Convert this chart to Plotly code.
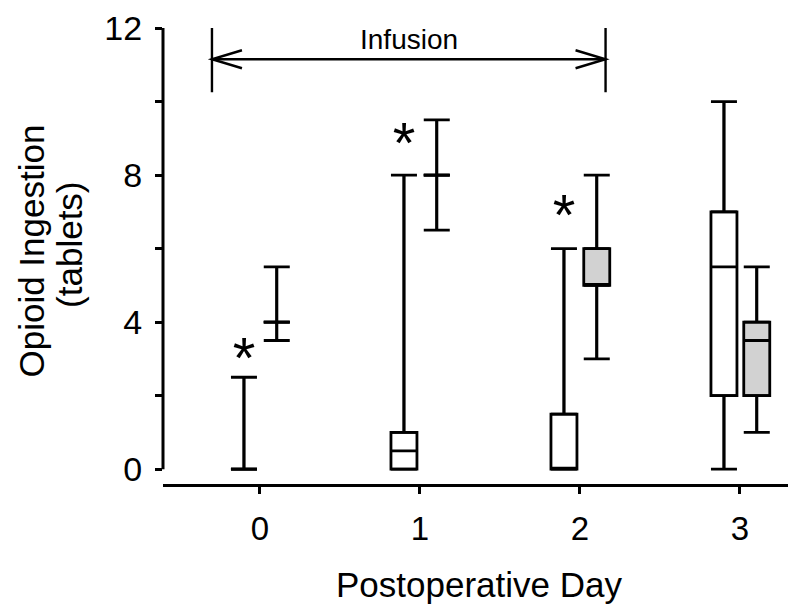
import plotly.graph_objects as go

# ---- data ----
days = [0, 1, 2, 3]
day_labels = ["0", "1", "2", "3"]

# group A (open boxes)
a_lower = [0, 0, 0, 0]
a_q1 = [0, 0, 0, 2]
a_median = [0, 0.5, 0, 5.5]
a_q3 = [0, 1, 1.5, 7]
a_upper = [2.5, 8, 6, 10]

# group B (shaded boxes)
b_lower = [3.5, 6.5, 3, 1]
b_q1 = [4, 8, 5, 2]
b_median = [4, 8, 5, 3.5]
b_q3 = [4, 8, 6, 4]
b_upper = [5.5, 9.5, 8, 5.5]

# significance markers (days 0-2, above group A)
sig_days = [0, 1, 2]
sig_y = [3.65, 9.5, 7.55]

y_tickvals = [0, 2, 4, 6, 8, 10, 12]
y_ticktext = ["0", "", "4", "", "8", "", "12"]

infusion_start = -0.3
infusion_end = 2.16
infusion_y = 11.15

# ---- layout constants ----
OFF_A = -0.1
OFF_B = 0.105
BOX_W = 0.1625
FONT = "Arial, Liberation Sans, sans-serif"
LW = 2.8
CAP = 13

xa = [d + OFF_A for d in days]
xb = [d + OFF_B for d in days]

fig = go.Figure()


def add_group(xs, lower, q1, med, q3, upper, fill):
    fig.add_trace(go.Box(
        x=xs, q1=q1, median=med, q3=q3, lowerfence=lower, upperfence=upper,
        width=BOX_W, fillcolor=fill, line=dict(color="black", width=LW),
        boxpoints=False, whiskerwidth=0, showlegend=False, hoverinfo="skip",
    ))
    # whisker caps via error bars (upper whiskers from q3, lower from q1)
    fig.add_trace(go.Scatter(
        x=xs + xs,
        y=q3 + q1,
        mode="markers",
        marker=dict(size=1, color="rgba(0,0,0,0)"),
        error_y=dict(
            type="data", symmetric=False,
            array=[u - t for u, t in zip(upper, q3)] + [0] * len(q1),
            arrayminus=[0] * len(q3) + [b - l for b, l in zip(q1, lower)],
            width=CAP, thickness=LW, color="black",
        ),
        showlegend=False, hoverinfo="skip",
    ))


add_group(xa, a_lower, a_q1, a_median, a_q3, a_upper, "white")
add_group(xb, b_lower, b_q1, b_median, b_q3, b_upper, "#d2d2d2")

fig.add_trace(go.Scatter(
    x=[d + OFF_A for d in sig_days], y=sig_y, mode="text", text=["*"] * len(sig_days),
    textfont=dict(family=FONT, size=58, color="black"), textposition="bottom center",
    showlegend=False, hoverinfo="skip",
))

shapes = [
    # y-axis line (0..12)
    dict(type="line", xref="paper", x0=0, x1=0, yref="y", y0=0, y1=12,
         line=dict(color="black", width=3)),
    # Infusion arrow
    dict(type="line", xref="x", yref="y", x0=infusion_start, x1=infusion_end,
         y0=infusion_y, y1=infusion_y, line=dict(color="black", width=2.4)),
    dict(type="line", xref="x", x0=infusion_start, x1=infusion_start,
         yref="y", ysizemode="pixel", yanchor=infusion_y, y0=-33, y1=32,
         line=dict(color="black", width=2.4)),
    dict(type="line", xref="x", x0=infusion_end, x1=infusion_end,
         yref="y", ysizemode="pixel", yanchor=infusion_y, y0=-33, y1=32,
         line=dict(color="black", width=2.4)),
    dict(type="path", xref="x", yref="y", xsizemode="pixel", ysizemode="pixel",
         xanchor=infusion_start, yanchor=infusion_y,
         path="M 30,9 L 0,0 L 30,-9", line=dict(color="black", width=2.4)),
    dict(type="path", xref="x", yref="y", xsizemode="pixel", ysizemode="pixel",
         xanchor=infusion_end, yanchor=infusion_y,
         path="M -30,9 L 0,0 L -30,-9", line=dict(color="black", width=2.4)),
]

annotations = [
    dict(x=(infusion_start + infusion_end) / 2, y=11.7, xref="x", yref="y",
         text="Infusion", showarrow=False, font=dict(family=FONT, size=28, color="black")),
    dict(x=0, xref="paper", xshift=-131, y=5.92, yref="y", textangle=-90,
         xanchor="center", yanchor="middle",
         text="Opioid Ingestion", showarrow=False, font=dict(family=FONT, size=35, color="black")),
    dict(x=0, xref="paper", xshift=-93, y=6.1, yref="y", textangle=-90,
         xanchor="center", yanchor="middle",
         text="(tablets)", showarrow=False, font=dict(family=FONT, size=35, color="black")),
]

fig.update_layout(
    width=788, height=596,
    margin=dict(l=155, r=1, t=17, b=116),
    paper_bgcolor="white", plot_bgcolor="white",
    font=dict(family=FONT, color="black"),
    shapes=shapes,
    annotations=annotations,
    xaxis=dict(
        range=[-0.606, 3.344], tickvals=days, ticktext=day_labels,
        showline=True, linecolor="black", linewidth=3,
        ticks="outside", ticklen=7, tickwidth=3, tickcolor="black",
        tickfont=dict(family=FONT, size=33), ticklabelstandoff=6,
        showgrid=False, zeroline=False,
        title=dict(text="Postoperative Day", font=dict(family=FONT, size=35), standoff=32),
    ),
    yaxis=dict(
        range=[-0.403, 12], tickvals=y_tickvals, ticktext=y_ticktext,
        showline=False, ticks="outside", ticklen=7, tickwidth=3, tickcolor="black",
        tickfont=dict(family=FONT, size=34), ticklabelstandoff=6,
        ticklabeloverflow="allow",
        showgrid=False, zeroline=False,
    ),
)

fig.write_html("out.html")
